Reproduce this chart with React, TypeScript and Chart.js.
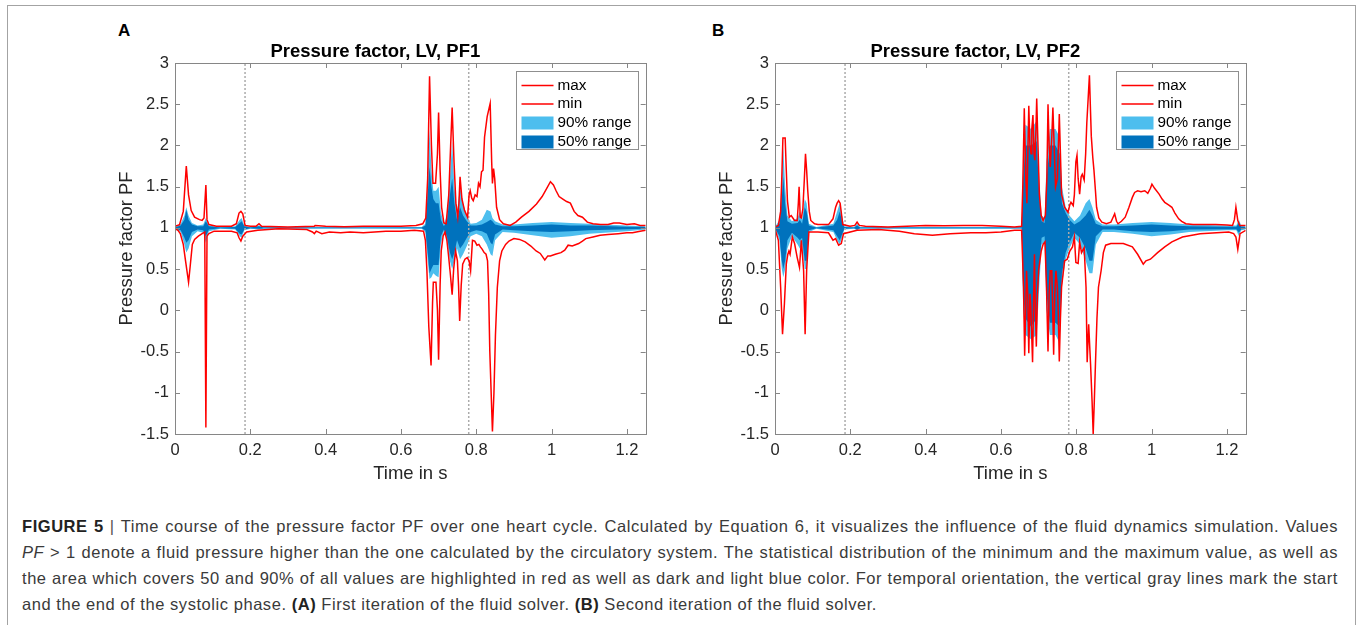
import React, { useEffect, useRef } from "react";
import { Chart, registerables } from "chart.js";
Chart.register(...registerables);

const FONT = "'Liberation Sans', Arial, Helvetica, sans-serif";

// ---------- axes / labels ----------
const xTickValues = [0, 0.2, 0.4, 0.6, 0.8, 1, 1.2];
const yTickValues = [-1.5, -1, -0.5, 0, 0.5, 1, 1.5, 2, 2.5, 3];
const xRange = [0, 1.25];
const yRange = [-1.5, 3];
const systoleTimes = [0.186, 0.78];
const legendLabels = ["max", "min", "90% range", "50% range"];
const panelTitles = ["Pressure factor, LV, PF1", "Pressure factor, LV, PF2"];
const panelLetters = ["A", "B"];
const xAxisTitle = "Time in s";
const yAxisTitle = "Pressure factor PF";

// ---------- Panel A (PF1) ----------
const timeMaxA = [0,0.012,0.022,0.030,0.036,0.043,0.052,0.065,0.072,0.077,0.082,0.085,0.09,0.11,0.15,0.163,0.170,0.175,0.180,0.186,0.2,0.215,0.223,0.23,0.3,0.37,0.372,0.4,0.45,0.5,0.55,0.6,0.64,0.658,0.666,0.671,0.676,0.681,0.685,0.692,0.697,0.700,0.704,0.708,0.714,0.72,0.727,0.732,0.736,0.741,0.746,0.751,0.754,0.757,0.762,0.769,0.777,0.781,0.784,0.788,0.792,0.797,0.802,0.806,0.81,0.814,0.818,0.822,0.829,0.834,0.837,0.841,0.843,0.846,0.849,0.854,0.862,0.872,0.89,0.905,0.92,0.94,0.96,0.975,0.985,0.997,1.005,1.012,1.02,1.03,1.04,1.05,1.06,1.07,1.082,1.095,1.11,1.13,1.15,1.165,1.18,1.2,1.22,1.235,1.25];
const valMaxA = [1.02,1.04,1.2,1.75,1.4,1.21,1.13,1.10,1.09,1.12,1.52,1.1,1.04,1.02,1.02,1.05,1.18,1.20,1.17,1.03,1.02,1.02,1.05,1.02,1.01,1.02,1.03,1.02,1.015,1.02,1.02,1.02,1.03,1.05,1.12,1.6,2.84,2.0,1.54,1.54,1.9,2.40,1.7,1.25,1.06,1.05,1.4,2.0,2.46,1.8,1.3,1.13,1.3,1.62,1.35,1.21,1.13,1.4,1.45,1.36,1.33,1.4,1.38,1.54,1.5,1.68,1.70,2.1,2.35,2.45,2.51,1.8,1.54,1.72,1.6,1.25,1.1,1.05,1.03,1.07,1.13,1.2,1.29,1.38,1.46,1.56,1.52,1.45,1.38,1.35,1.32,1.3,1.2,1.15,1.13,1.07,1.05,1.04,1.04,1.06,1.06,1.04,1.05,1.03,1.03];

const timeMinA = [0,0.008,0.014,0.022,0.028,0.036,0.040,0.046,0.052,0.062,0.072,0.079,0.082,0.085,0.09,0.104,0.15,0.165,0.170,0.175,0.18,0.19,0.22,0.275,0.35,0.365,0.37,0.375,0.39,0.41,0.44,0.465,0.5,0.53,0.56,0.6,0.636,0.66,0.665,0.669,0.674,0.680,0.684,0.686,0.693,0.697,0.700,0.704,0.707,0.712,0.717,0.722,0.726,0.731,0.736,0.740,0.745,0.750,0.753,0.756,0.760,0.764,0.770,0.776,0.781,0.785,0.79,0.796,0.802,0.807,0.811,0.816,0.821,0.826,0.83,0.833,0.836,0.843,0.847,0.851,0.856,0.862,0.868,0.878,0.887,0.9,0.915,0.93,0.945,0.959,0.97,0.982,0.99,0.997,1.01,1.025,1.035,1.044,1.055,1.072,1.082,1.091,1.11,1.129,1.15,1.177,1.2,1.215,1.235,1.25];
const valMinA = [0.99,0.97,0.93,0.8,0.6,0.34,0.52,0.8,0.86,0.9,0.93,0.95,-1.42,0.9,0.93,0.96,0.96,0.94,0.88,0.84,0.9,0.95,0.97,0.99,0.98,0.95,0.93,0.96,0.93,0.95,0.94,0.95,0.94,0.95,0.96,0.96,0.97,0.96,0.85,0.48,-0.2,-0.67,0.1,0.34,0.34,0.0,-0.60,0.3,0.72,0.9,0.95,0.85,0.68,0.45,0.19,0.5,0.72,0.60,0.3,-0.13,0.3,0.56,0.62,0.64,0.6,0.48,0.85,0.84,0.79,0.8,0.77,0.74,0.70,0.68,0.6,0.2,-0.5,-1.47,-1.0,-0.3,0.28,0.6,0.72,0.8,0.84,0.87,0.86,0.83,0.78,0.72,0.69,0.61,0.66,0.66,0.68,0.70,0.73,0.79,0.78,0.81,0.84,0.87,0.89,0.91,0.92,0.93,0.94,0.94,0.96,0.97];

const timeBandA = [0,0.015,0.025,0.030,0.036,0.045,0.06,0.075,0.082,0.09,0.12,0.16,0.172,0.177,0.184,0.2,0.223,0.235,0.5,0.655,0.665,0.671,0.676,0.681,0.686,0.693,0.700,0.706,0.714,0.722,0.730,0.736,0.742,0.749,0.757,0.765,0.775,0.785,0.8,0.815,0.828,0.838,0.843,0.85,0.87,0.9,0.95,1.0,1.05,1.1,1.2,1.25];
const hi90A = [1.01,1.05,1.15,1.25,1.15,1.06,1.03,1.04,1.12,1.03,1.01,1.02,1.1,1.12,1.03,1.01,1.03,1.01,1.008,1.01,1.05,1.6,2.2,1.7,1.45,1.45,1.5,1.2,1.04,1.15,1.6,2.05,1.5,1.2,1.5,1.3,1.15,1.05,1.06,1.1,1.22,1.2,1.12,1.08,1.04,1.04,1.06,1.07,1.06,1.05,1.03,1.02];
const lo90A = [0.99,0.95,0.8,0.70,0.75,0.9,0.96,0.94,0.82,0.96,0.99,0.98,0.9,0.88,0.97,0.99,0.98,0.99,0.992,0.99,0.95,0.6,0.38,0.4,0.45,0.42,0.4,0.8,0.96,0.85,0.6,0.5,0.6,0.75,0.62,0.68,0.78,0.9,0.93,0.9,0.8,0.68,0.66,0.85,0.95,0.94,0.91,0.88,0.9,0.93,0.96,0.98];
const hi50A = [1.005,1.03,1.1,1.22,1.1,1.04,1.02,1.02,1.08,1.02,1.005,1.01,1.06,1.08,1.02,1.005,1.02,1.005,1.004,1.005,1.03,1.4,1.74,1.5,1.35,1.3,1.3,1.1,1.02,1.08,1.4,1.6,1.3,1.1,1.25,1.15,1.08,1.03,1.03,1.04,1.07,1.1,1.08,1.04,1.02,1.02,1.03,1.04,1.03,1.03,1.015,1.01];
const lo50A = [0.995,0.97,0.88,0.82,0.85,0.95,0.98,0.97,0.9,0.98,0.995,0.99,0.93,0.92,0.98,0.995,0.99,0.995,0.996,0.995,0.97,0.7,0.45,0.5,0.55,0.55,0.55,0.9,0.98,0.9,0.7,0.62,0.7,0.85,0.75,0.8,0.88,0.95,0.97,0.96,0.93,0.82,0.8,0.92,0.98,0.97,0.96,0.95,0.96,0.97,0.985,0.99];

// ---------- Panel B (PF2) ----------
const timeMaxB = [0,0.009,0.015,0.018,0.021,0.027,0.030,0.033,0.038,0.043,0.052,0.059,0.062,0.064,0.067,0.07,0.074,0.078,0.081,0.084,0.087,0.091,0.095,0.105,0.114,0.142,0.154,0.161,0.165,0.169,0.173,0.176,0.180,0.199,0.212,0.218,0.224,0.24,0.3,0.35,0.4,0.45,0.5,0.55,0.6,0.636,0.655,0.658,0.662,0.666,0.669,0.671,0.674,0.677,0.680,0.682,0.685,0.688,0.690,0.693,0.695,0.699,0.702,0.707,0.712,0.718,0.722,0.725,0.728,0.731,0.735,0.738,0.742,0.745,0.75,0.755,0.758,0.761,0.769,0.778,0.783,0.786,0.792,0.795,0.799,0.802,0.805,0.809,0.813,0.816,0.821,0.825,0.828,0.832,0.835,0.838,0.840,0.844,0.847,0.851,0.854,0.86,0.868,0.88,0.892,0.897,0.902,0.907,0.911,0.92,0.93,0.94,0.949,0.955,0.963,0.972,0.982,0.99,0.997,1.001,1.008,1.02,1.028,1.035,1.045,1.054,1.062,1.072,1.08,1.091,1.11,1.129,1.17,1.2,1.215,1.22,1.224,1.229,1.234,1.25];
const valMaxB = [1.01,1.03,1.2,1.6,2.09,2.09,1.7,1.33,1.13,1.15,1.09,1.09,1.3,1.50,1.13,1.12,1.23,1.6,1.90,1.7,1.45,1.2,1.09,1.05,1.04,1.04,1.11,1.25,1.3,1.33,1.3,1.19,1.04,1.02,1.03,1.07,1.03,1.02,1.01,1.02,1.03,1.025,1.03,1.03,1.02,1.01,1.02,1.5,2.45,1.6,1.3,1.8,2.48,2.0,1.9,2.2,2.37,1.9,1.82,2.2,2.57,1.9,1.41,1.15,1.09,1.15,1.6,2.50,2.0,1.74,2.1,2.46,1.9,1.5,1.6,2.38,1.9,1.41,1.25,1.19,1.28,1.31,1.27,1.4,1.8,1.88,1.6,1.41,1.62,1.65,1.58,1.9,2.27,2.6,2.85,2.4,2.11,1.85,1.70,1.45,1.25,1.12,1.07,1.05,1.07,1.12,1.17,1.08,1.05,1.08,1.13,1.25,1.37,1.43,1.45,1.44,1.45,1.42,1.48,1.53,1.48,1.41,1.35,1.31,1.28,1.25,1.18,1.11,1.08,1.05,1.04,1.04,1.04,1.035,1.03,1.1,1.25,1.09,1.03,1.03];

const timeMinB = [0,0.009,0.015,0.020,0.025,0.030,0.034,0.037,0.040,0.046,0.052,0.059,0.065,0.070,0.076,0.080,0.084,0.090,0.114,0.142,0.154,0.161,0.169,0.176,0.182,0.218,0.275,0.33,0.37,0.418,0.465,0.52,0.56,0.6,0.636,0.655,0.660,0.663,0.668,0.671,0.674,0.677,0.679,0.684,0.687,0.689,0.691,0.694,0.697,0.700,0.707,0.712,0.717,0.721,0.725,0.728,0.731,0.735,0.737,0.740,0.743,0.746,0.75,0.752,0.755,0.758,0.761,0.769,0.776,0.783,0.79,0.795,0.799,0.805,0.809,0.814,0.821,0.826,0.829,0.833,0.838,0.842,0.845,0.848,0.851,0.855,0.859,0.866,0.872,0.878,0.892,0.906,0.925,0.949,0.963,0.978,0.985,0.997,1.016,1.035,1.054,1.082,1.129,1.205,1.218,1.224,1.229,1.235,1.25];
const valMinB = [0.99,0.85,0.28,-0.29,0.08,0.56,0.68,0.72,0.68,0.89,0.81,0.64,0.52,0.85,0.48,-0.29,0.48,0.95,0.95,0.94,0.85,0.87,0.79,0.81,0.93,0.97,0.98,0.96,0.93,0.91,0.93,0.94,0.94,0.95,0.97,0.97,0.28,-0.55,0.48,0.2,-0.52,0.2,0.08,-0.63,0.2,0.68,0.1,-0.44,0.2,0.48,0.72,0.8,0.83,0.28,-0.50,0.2,0.48,0.48,0.1,-0.54,0.2,0.48,0.28,0.0,-0.62,-0.1,0.28,0.60,0.62,0.72,0.77,0.89,0.58,0.57,0.83,0.70,0.76,0.28,-0.63,-0.17,-0.65,-1.1,-1.5,-1.1,-0.65,-0.1,0.28,0.48,0.7,0.79,0.81,0.81,0.81,0.77,0.68,0.56,0.6,0.62,0.70,0.77,0.83,0.89,0.93,0.95,0.93,0.89,0.74,0.93,0.97];

const timeBandB = [0,0.012,0.018,0.022,0.027,0.033,0.045,0.06,0.066,0.072,0.079,0.084,0.09,0.11,0.155,0.165,0.172,0.178,0.184,0.21,0.218,0.226,0.5,0.655,0.659,0.665,0.68,0.695,0.702,0.708,0.716,0.721,0.73,0.745,0.756,0.762,0.772,0.782,0.795,0.81,0.825,0.835,0.843,0.852,0.87,0.9,0.95,1.0,1.05,1.1,1.2,1.225,1.232,1.238,1.25];
const hi90B = [1.01,1.1,1.6,1.98,1.5,1.15,1.08,1.12,1.2,1.1,1.35,1.3,1.05,1.01,1.05,1.2,1.3,1.15,1.02,1.01,1.05,1.01,1.01,1.01,1.8,2.25,2.2,2.3,1.6,1.15,1.12,1.8,2.2,2.2,2.1,1.5,1.25,1.15,1.08,1.15,1.3,1.35,1.25,1.1,1.04,1.04,1.06,1.07,1.06,1.04,1.03,1.03,1.1,1.03,1.02];
const lo90B = [0.99,0.85,0.5,0.4,0.5,0.75,0.9,0.8,0.75,0.8,0.5,0.5,0.95,0.99,0.95,0.85,0.8,0.88,0.98,0.99,0.97,0.99,0.99,0.99,0.0,-0.3,-0.35,-0.3,0.3,0.8,0.82,0.0,-0.3,-0.3,-0.4,0.3,0.62,0.75,0.88,0.8,0.6,0.45,0.45,0.8,0.95,0.95,0.93,0.9,0.92,0.95,0.97,0.97,0.9,0.97,0.98];
const hi50B = [1.005,1.05,1.35,1.62,1.3,1.08,1.05,1.06,1.1,1.05,1.25,1.2,1.03,1.005,1.03,1.1,1.2,1.08,1.01,1.005,1.03,1.005,1.005,1.005,1.6,2.0,2.0,2.05,1.4,1.08,1.06,1.6,2.0,2.0,1.9,1.3,1.18,1.1,1.04,1.08,1.15,1.22,1.15,1.05,1.02,1.02,1.03,1.04,1.03,1.02,1.015,1.015,1.06,1.015,1.01];
const lo50B = [0.995,0.9,0.6,0.5,0.6,0.85,0.94,0.88,0.85,0.88,0.6,0.6,0.97,0.995,0.97,0.9,0.85,0.92,0.99,0.995,0.98,0.995,0.995,0.995,0.2,-0.1,-0.2,-0.1,0.5,0.88,0.9,0.2,-0.15,-0.15,-0.2,0.45,0.7,0.82,0.94,0.88,0.75,0.6,0.6,0.9,0.98,0.98,0.96,0.95,0.96,0.98,0.985,0.985,0.94,0.985,0.99];

// ---------- colours ----------
const RED = "#FF0000";
const LIGHT_BLUE = "#4DBEEE";
const DARK_BLUE = "#0072BD";
const SYS_GRAY = "#ababab";
const AXIS_GRAY = "#868686";
const TEXT_DARK = "#262626";

type PanelData = {
  title: string;
  tMax: number[]; vMax: number[];
  tMin: number[]; vMin: number[];
  tBand: number[]; hi90: number[]; lo90: number[]; hi50: number[]; lo50: number[];
};

const panels: PanelData[] = [
  { title: panelTitles[0], tMax: timeMaxA, vMax: valMaxA, tMin: timeMinA, vMin: valMinA, tBand: timeBandA, hi90: hi90A, lo90: lo90A, hi50: hi50A, lo50: lo50A },
  { title: panelTitles[1], tMax: timeMaxB, vMax: valMaxB, tMin: timeMinB, vMin: valMinB, tBand: timeBandB, hi90: hi90B, lo90: lo90B, hi50: hi50B, lo50: lo50B },
];

const zip = (t: number[], v: number[]) => t.map((x, i) => ({ x, y: v[i] }));

const frameLegendPlugin = {
  id: "frameLegend",
  afterDatasetsDraw(chart: any) {
    const { ctx, chartArea: a, scales } = chart;
    const xs = scales.x, ys = scales.y;
    ctx.save();
    ctx.strokeStyle = AXIS_GRAY;
    ctx.lineWidth = 1;
    ctx.beginPath();
    for (const v of xTickValues) {
      const px = Math.round(xs.getPixelForValue(v)) + 0.5;
      ctx.moveTo(px, a.bottom); ctx.lineTo(px, a.bottom - 5);
      ctx.moveTo(px, a.top); ctx.lineTo(px, a.top + 5);
    }
    for (const v of yTickValues) {
      const py = Math.round(ys.getPixelForValue(v)) + 0.5;
      ctx.moveTo(a.left, py); ctx.lineTo(a.left + 5, py);
      ctx.moveTo(a.right, py); ctx.lineTo(a.right - 5, py);
    }
    ctx.stroke();
    ctx.strokeRect(Math.round(a.left) + 0.5, Math.round(a.top) + 0.5, Math.round(a.right - a.left), Math.round(a.bottom - a.top));

    // legend box (top-right inside the axes)
    const bw = 122, bh = 78;
    const bx = Math.round(a.right - 8 - bw) + 0.5;
    const by = Math.round(a.top + 8) + 0.5;
    ctx.fillStyle = "#ffffff";
    ctx.fillRect(bx, by, bw, bh);
    ctx.strokeStyle = "#8f8f8f";
    ctx.strokeRect(bx, by, bw, bh);
    const rows = [14, 32.5, 51.5, 70.5];
    const swatchL = bx + 5, swatchR = bx + 37;
    ctx.lineWidth = 1.5;
    for (let i = 0; i < 2; i++) {
      ctx.strokeStyle = RED;
      ctx.beginPath();
      ctx.moveTo(swatchL, by + rows[i]);
      ctx.lineTo(swatchR, by + rows[i]);
      ctx.stroke();
    }
    ctx.fillStyle = LIGHT_BLUE;
    ctx.fillRect(swatchL, by + rows[2] - 6.5, swatchR - swatchL, 13);
    ctx.fillStyle = DARK_BLUE;
    ctx.fillRect(swatchL, by + rows[3] - 6.5, swatchR - swatchL, 13);
    ctx.fillStyle = "#000000";
    ctx.font = `15.3px ${FONT}`;
    ctx.textBaseline = "middle";
    ctx.textAlign = "left";
    legendLabels.forEach((lab, i) => ctx.fillText(lab, bx + 41, by + rows[i]));
    ctx.restore();
  },
};

function PFChart({ data }: { data: PanelData }) {
  const ref = useRef<HTMLCanvasElement | null>(null);
  useEffect(() => {
    if (!ref.current) return;
    const sysSets = systoleTimes.map((t) => ({
      data: [{ x: t, y: yRange[0] }, { x: t, y: yRange[1] }],
      borderColor: SYS_GRAY,
      borderWidth: 1.5,
      borderDash: [2, 2],
      pointRadius: 0,
      fill: false,
    }));
    const chart = new Chart(ref.current, {
      type: "line",
      data: {
        datasets: [
          { label: legendLabels[0], data: zip(data.tMax, data.vMax), borderColor: RED, borderWidth: 1.5, pointRadius: 0, fill: false, tension: 0 },
          { label: legendLabels[1], data: zip(data.tMin, data.vMin), borderColor: RED, borderWidth: 1.5, pointRadius: 0, fill: false, tension: 0 },
          ...sysSets,
          { label: legendLabels[3], data: zip(data.tBand, data.hi50), borderWidth: 0, borderColor: DARK_BLUE, backgroundColor: DARK_BLUE, pointRadius: 0, fill: "+1", tension: 0 },
          { label: "lo50", data: zip(data.tBand, data.lo50), borderWidth: 0, borderColor: DARK_BLUE, pointRadius: 0, fill: false, tension: 0 },
          { label: legendLabels[2], data: zip(data.tBand, data.hi90), borderWidth: 0, borderColor: LIGHT_BLUE, backgroundColor: LIGHT_BLUE, pointRadius: 0, fill: "+1", tension: 0 },
          { label: "lo90", data: zip(data.tBand, data.lo90), borderWidth: 0, borderColor: LIGHT_BLUE, pointRadius: 0, fill: false, tension: 0 },
        ] as any,
      },
      options: {
        responsive: false,
        animation: false,
        devicePixelRatio: 1,
        events: [],
        layout: { padding: { left: 0, right: 11.3, top: 20.8, bottom: 1 } },
        plugins: {
          legend: { display: false },
          tooltip: { enabled: false },
          title: {
            display: true,
            text: data.title,
            color: "#000000",
            font: { family: FONT, size: 18.5, weight: "bold", lineHeight: 1.2 },
            padding: { top: 0, bottom: 0 },
          },
        },
        scales: {
          x: {
            type: "linear",
            min: xRange[0],
            max: xRange[1],
            afterBuildTicks: (s: any) => { s.ticks = xTickValues.map((v) => ({ value: v })); },
            afterFit: (s: any) => { s.height = 55; },
            grid: { display: false, drawTicks: false },
            border: { display: false },
            ticks: {
              padding: 7,
              color: TEXT_DARK,
              font: { family: FONT, size: 16.5 },
              maxRotation: 0,
              callback: (v: any) => String(v),
            },
            title: {
              display: true,
              text: xAxisTitle,
              color: TEXT_DARK,
              font: { family: FONT, size: 18.5 },
              padding: { top: 0, bottom: 4 },
            },
          },
          y: {
            type: "linear",
            min: yRange[0],
            max: yRange[1],
            afterBuildTicks: (s: any) => { s.ticks = yTickValues.map((v) => ({ value: v })); },
            afterFit: (s: any) => { s.width = 70; },
            grid: { display: false, drawTicks: false },
            border: { display: false },
            ticks: {
              padding: 6,
              color: TEXT_DARK,
              font: { family: FONT, size: 16.5 },
              callback: (v: any) => String(v),
            },
            title: {
              display: true,
              text: yAxisTitle,
              color: TEXT_DARK,
              font: { family: FONT, size: 18.5 },
              padding: { top: 11, bottom: 0 },
            },
          },
        },
      } as any,
      plugins: [frameLegendPlugin],
    });
    return () => chart.destroy();
  }, [data]);
  return <canvas ref={ref} width={552} height={470} style={{ width: 552, height: 470, display: "block" }} />;
}

const captionLines = [
  "Time course of the pressure factor PF over one heart cycle. Calculated by Equation 6, it visualizes the influence of the fluid dynamics simulation. Values",
  " > 1 denote a fluid pressure higher than the one calculated by the circulatory system. The statistical distribution of the minimum and the maximum value, as well as",
  "the area which covers 50 and 90% of all values are highlighted in red as well as dark and light blue color. For temporal orientation, the vertical gray lines mark the start",
];

export default function App() {
  const justify: React.CSSProperties = { textAlign: "justify", textAlignLast: "justify" as any, whiteSpace: "nowrap" };
  return (
    <div style={{ position: "fixed", left: 0, top: 0, width: 1358, height: 625, overflow: "hidden", background: "#fff", fontFamily: FONT }}>
      <div style={{ position: "absolute", left: 7, top: 5, width: 1349, height: 640, border: "1px solid #a3a3a3", boxSizing: "border-box" }} />
      {panelLetters.map((l, i) => (
        <div key={l} style={{ position: "absolute", left: i === 0 ? 118 : 712, top: 21, fontSize: 17, fontWeight: "bold", color: "#000", lineHeight: "normal" }}>{l}</div>
      ))}
      <div style={{ position: "absolute", left: 105, top: 20 }}><PFChart data={panels[0]} /></div>
      <div style={{ position: "absolute", left: 705, top: 20 }}><PFChart data={panels[1]} /></div>
      <div style={{ position: "absolute", left: 22, top: 513, width: 1316, fontSize: 16.5, letterSpacing: "0.55px", lineHeight: "26px", color: "#3a3a3a" }}>
        <div style={justify}><b style={{ color: "#222" }}>FIGURE 5</b> <span style={{ color: "#555" }}>|</span> {captionLines[0]}</div>
        <div style={justify}><i>PF</i>{captionLines[1]}</div>
        <div style={justify}>{captionLines[2]}</div>
        <div style={{ whiteSpace: "nowrap" }}>and the end of the systolic phase. <b style={{ color: "#222" }}>(A)</b> First iteration of the fluid solver. <b style={{ color: "#222" }}>(B)</b> Second iteration of the fluid solver.</div>
      </div>
    </div>
  );
}
